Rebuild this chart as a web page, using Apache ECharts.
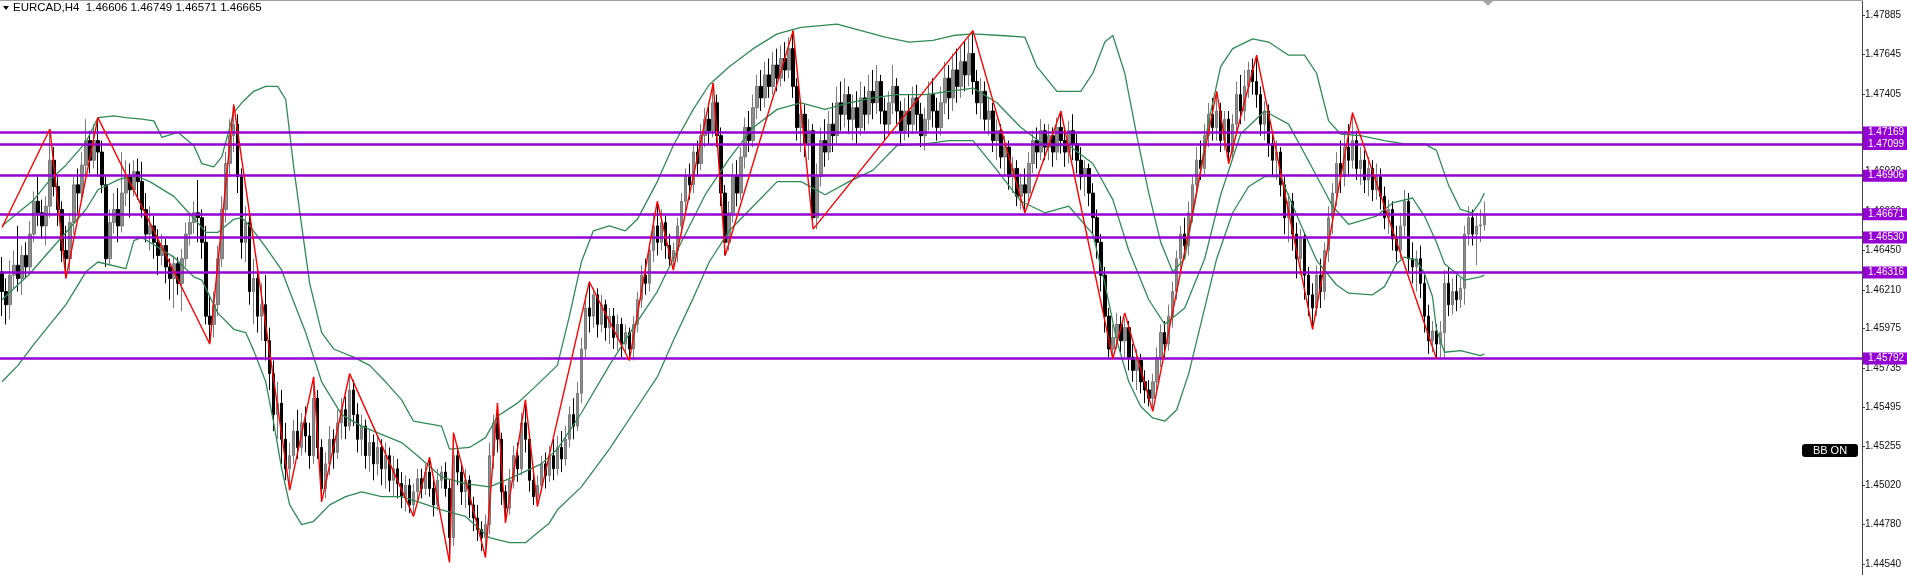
<!DOCTYPE html>
<html><head><meta charset="utf-8">
<script src="https://cdn.jsdelivr.net/npm/echarts@6/dist/echarts.min.js"></script>
<style>html,body{margin:0;padding:0;background:#fff}#c{width:1907px;height:575px}</style>
</head><body><div id="c"></div>
<script>
// [open, close, low, high]
const candles = [
[1.4632,1.4620,1.4605,1.4641],[1.4620,1.4612,1.4600,1.4628],[1.4612,1.4630,1.4603,1.4639],[1.4630,1.4636,1.4622,1.4645],
[1.4636,1.4628,1.4620,1.4660],[1.4628,1.4642,1.4618,1.4648],[1.4642,1.4635,1.4628,1.4650],[1.4635,1.4655,1.4630,1.4663],
[1.4655,1.4675,1.4650,1.4681],[1.4675,1.4668,1.4660,1.4690],[1.4668,1.4660,1.4652,1.4676],[1.4660,1.4672,1.4648,1.4678],
[1.4672,1.4700,1.4665,1.4719],[1.4700,1.4684,1.4678,1.4708],[1.4684,1.4670,1.4660,1.4690],[1.4670,1.4645,1.4638,1.4675],
[1.4645,1.4640,1.4628,1.4660],[1.4640,1.4662,1.4632,1.4668],[1.4662,1.4685,1.4655,1.4690],[1.4685,1.4680,1.4668,1.4695],
[1.4680,1.4697,1.4675,1.4705],[1.4697,1.4712,1.4690,1.4725],[1.4712,1.4700,1.4692,1.4718],[1.4700,1.4712,1.4695,1.4722],
[1.4712,1.4705,1.4690,1.4726],[1.4705,1.4685,1.4680,1.4712],[1.4685,1.4640,1.4635,1.4690],[1.4640,1.4662,1.4636,1.4670],
[1.4662,1.4670,1.4655,1.4680],[1.4670,1.4660,1.4650,1.4683],[1.4660,1.4680,1.4656,1.4705],[1.4680,1.4690,1.4672,1.4700],
[1.4690,1.4682,1.4665,1.4698],[1.4682,1.4693,1.4678,1.4700],[1.4693,1.4687,1.4676,1.4701],[1.4687,1.4670,1.4665,1.4699],
[1.4670,1.4655,1.4650,1.4680],[1.4655,1.4660,1.4645,1.4672],[1.4660,1.4650,1.4640,1.4666],[1.4650,1.4642,1.4630,1.4658],
[1.4642,1.4648,1.4636,1.4655],[1.4648,1.4635,1.4625,1.4652],[1.4635,1.4628,1.4615,1.4640],[1.4628,1.4637,1.4610,1.4642],
[1.4637,1.4625,1.4618,1.4641],[1.4625,1.4640,1.4608,1.4646],[1.4640,1.4655,1.4635,1.4662],[1.4655,1.4662,1.4648,1.4668],
[1.4662,1.4668,1.4655,1.4675],[1.4668,1.4665,1.4650,1.4688],[1.4665,1.4650,1.4640,1.4670],[1.4650,1.4605,1.4600,1.4660],
[1.4605,1.4600,1.4588,1.4618],[1.4600,1.4612,1.4592,1.4620],[1.4612,1.4640,1.4605,1.4648],[1.4640,1.4670,1.4635,1.4678],
[1.4670,1.4698,1.4662,1.4705],[1.4698,1.4715,1.4690,1.4725],[1.4715,1.4722,1.4705,1.4734],[1.4722,1.4690,1.4680,1.4728],
[1.4690,1.4650,1.4640,1.4695],[1.4650,1.4662,1.4638,1.4672],[1.4662,1.4620,1.4612,1.4668],[1.4620,1.4628,1.4600,1.4640],
[1.4628,1.4605,1.4595,1.4635],[1.4605,1.4612,1.4590,1.4625],[1.4612,1.4590,1.4578,1.4630],[1.4590,1.4570,1.4560,1.4598],
[1.4570,1.4545,1.4535,1.4578],[1.4545,1.4552,1.4530,1.4565],[1.4552,1.4530,1.4515,1.4560],[1.4530,1.4512,1.4505,1.4540],
[1.4512,1.4520,1.4499,1.4528],[1.4520,1.4535,1.4515,1.4542],[1.4535,1.4525,1.4518,1.4548],[1.4525,1.4540,1.4520,1.4546],
[1.4540,1.4532,1.4522,1.4550],[1.4532,1.4520,1.4512,1.4540],[1.4520,1.4555,1.4515,1.4568],[1.4555,1.4525,1.4518,1.4560],
[1.4525,1.4500,1.4492,1.4530],[1.4500,1.4515,1.4494,1.4522],[1.4515,1.4530,1.4508,1.4538],[1.4530,1.4522,1.4512,1.4536],
[1.4522,1.4540,1.4518,1.4548],[1.4540,1.4548,1.4530,1.4555],[1.4548,1.4538,1.4530,1.4556],[1.4538,1.4560,1.4535,1.4570],
[1.4560,1.4545,1.4538,1.4566],[1.4545,1.4530,1.4522,1.4552],[1.4530,1.4538,1.4520,1.4545],[1.4538,1.4520,1.4512,1.4542],
[1.4520,1.4528,1.4510,1.4536],[1.4528,1.4515,1.4505,1.4533],[1.4515,1.4525,1.4508,1.4532],[1.4525,1.4512,1.4502,1.4530],
[1.4512,1.4520,1.4500,1.4528],[1.4520,1.4505,1.4498,1.4525],[1.4505,1.4512,1.4495,1.4520],[1.4512,1.4503,1.4494,1.4518],
[1.4503,1.4495,1.4488,1.4510],[1.4495,1.4502,1.4486,1.4508],[1.4502,1.4490,1.4485,1.4506],[1.4490,1.4498,1.4483,1.4503],
[1.4498,1.4506,1.4492,1.4512],[1.4506,1.4500,1.4494,1.4512],[1.4500,1.4510,1.4496,1.4515],[1.4510,1.4500,1.4495,1.4519],
[1.4500,1.4490,1.4483,1.4505],[1.4490,1.4505,1.4487,1.4512],[1.4505,1.4510,1.4500,1.4514],[1.4510,1.4500,1.4495,1.4516],
[1.4500,1.4470,1.4455,1.4505],[1.4470,1.4520,1.4465,1.4534],[1.4520,1.4510,1.4502,1.4526],[1.4510,1.4498,1.4490,1.4515],
[1.4498,1.4505,1.4488,1.4512],[1.4505,1.4490,1.4482,1.4508],[1.4490,1.4482,1.4474,1.4495],[1.4482,1.4475,1.4468,1.4490],
[1.4475,1.4470,1.4462,1.4480],[1.4470,1.4478,1.4458,1.4484],[1.4478,1.4520,1.4472,1.4528],[1.4520,1.4540,1.4512,1.4545],
[1.4540,1.4530,1.4522,1.4552],[1.4530,1.4498,1.4490,1.4534],[1.4498,1.4488,1.4479,1.4502],[1.4488,1.4505,1.4484,1.4512],
[1.4505,1.4520,1.4500,1.4526],[1.4520,1.4512,1.4504,1.4528],[1.4512,1.4540,1.4508,1.4546],[1.4540,1.4530,1.4522,1.4554],
[1.4530,1.4505,1.4498,1.4534],[1.4505,1.4495,1.4490,1.4510],[1.4495,1.4502,1.4489,1.4508],[1.4502,1.4515,1.4498,1.4520],
[1.4515,1.4508,1.4500,1.4522],[1.4508,1.4520,1.4504,1.4526],[1.4520,1.4512,1.4505,1.4530],[1.4512,1.4525,1.4508,1.4532],
[1.4525,1.4518,1.4510,1.4535],[1.4518,1.4530,1.4514,1.4538],[1.4530,1.4545,1.4525,1.4550],[1.4545,1.4538,1.4530,1.4555],
[1.4538,1.4558,1.4535,1.4565],[1.4558,1.4585,1.4552,1.4592],[1.4585,1.4610,1.4580,1.4618],[1.4610,1.4605,1.4595,1.4626],
[1.4605,1.4618,1.4598,1.4622],[1.4618,1.4600,1.4592,1.4622],[1.4600,1.4612,1.4595,1.4618],[1.4612,1.4598,1.4590,1.4615],
[1.4598,1.4605,1.4588,1.4610],[1.4605,1.4592,1.4585,1.4610],[1.4592,1.4600,1.4584,1.4606],[1.4600,1.4588,1.4580,1.4604],
[1.4588,1.4595,1.4582,1.4600],[1.4595,1.4585,1.4578,1.4598],[1.4585,1.4600,1.4578,1.4605],[1.4600,1.4615,1.4595,1.4620],
[1.4615,1.4630,1.4610,1.4636],[1.4630,1.4625,1.4618,1.4640],[1.4625,1.4645,1.4620,1.4650],[1.4645,1.4660,1.4638,1.4668],
[1.4660,1.4650,1.4642,1.4675],[1.4650,1.4662,1.4645,1.4670],[1.4662,1.4648,1.4640,1.4666],[1.4648,1.4640,1.4635,1.4655],
[1.4640,1.4645,1.4633,1.4650],[1.4645,1.4660,1.4638,1.4665],[1.4660,1.4675,1.4655,1.4680],[1.4675,1.4690,1.4668,1.4695],
[1.4690,1.4685,1.4676,1.4698],[1.4685,1.4705,1.4680,1.4710],[1.4705,1.4698,1.4690,1.4712],[1.4698,1.4715,1.4694,1.4722],
[1.4715,1.4725,1.4708,1.4732],[1.4725,1.4718,1.4710,1.4735],[1.4718,1.4735,1.4714,1.4747],[1.4735,1.4715,1.4708,1.4740],
[1.4715,1.4680,1.4672,1.4720],[1.4680,1.4650,1.4642,1.4685],[1.4650,1.4668,1.4645,1.4675],[1.4668,1.4690,1.4662,1.4698],
[1.4690,1.4680,1.4672,1.4700],[1.4680,1.4702,1.4676,1.4708],[1.4702,1.4720,1.4695,1.4726],[1.4720,1.4712,1.4705,1.4730],
[1.4712,1.4732,1.4708,1.4740],[1.4732,1.4745,1.4725,1.4752],[1.4745,1.4738,1.4730,1.4755],[1.4738,1.4752,1.4732,1.4760],
[1.4752,1.4745,1.4738,1.4762],[1.4745,1.4758,1.4740,1.4766],[1.4758,1.4750,1.4742,1.4768],[1.4750,1.4762,1.4745,1.4770],
[1.4762,1.4755,1.4748,1.4772],[1.4755,1.4768,1.4750,1.4775],[1.4768,1.4745,1.4738,1.4779],[1.4745,1.4720,1.4712,1.4750],
[1.4720,1.4728,1.4705,1.4735],[1.4728,1.4710,1.4702,1.4734],[1.4710,1.4718,1.4700,1.4725],[1.4718,1.4665,1.4660,1.4722],
[1.4665,1.4690,1.4658,1.4698],[1.4690,1.4712,1.4684,1.4720],[1.4712,1.4705,1.4696,1.4725],[1.4705,1.4722,1.4700,1.4730],
[1.4722,1.4715,1.4705,1.4735],[1.4715,1.4735,1.4710,1.4745],[1.4735,1.4728,1.4718,1.4748],[1.4728,1.4740,1.4720,1.4750],
[1.4740,1.4725,1.4716,1.4745],[1.4725,1.4732,1.4712,1.4740],[1.4732,1.4720,1.4710,1.4742],[1.4720,1.4738,1.4715,1.4748],
[1.4738,1.4728,1.4718,1.4745],[1.4728,1.4742,1.4722,1.4752],[1.4742,1.4735,1.4725,1.4755],[1.4735,1.4748,1.4728,1.4758],
[1.4748,1.4730,1.4722,1.4752],[1.4730,1.4722,1.4712,1.4738],[1.4722,1.4735,1.4715,1.4742],[1.4735,1.4745,1.4728,1.4758],
[1.4745,1.4730,1.4722,1.4750],[1.4730,1.4718,1.4710,1.4736],[1.4718,1.4730,1.4712,1.4738],[1.4730,1.4722,1.4714,1.4740],
[1.4722,1.4738,1.4716,1.4745],[1.4738,1.4728,1.4718,1.4746],[1.4728,1.4715,1.4708,1.4735],[1.4715,1.4725,1.4706,1.4732],
[1.4725,1.4740,1.4718,1.4748],[1.4740,1.4730,1.4720,1.4750],[1.4730,1.4720,1.4712,1.4738],[1.4720,1.4735,1.4715,1.4745],
[1.4735,1.4750,1.4728,1.4760],[1.4750,1.4738,1.4725,1.4758],[1.4738,1.4755,1.4730,1.4765],[1.4755,1.4745,1.4735,1.4768],
[1.4745,1.4760,1.4738,1.4770],[1.4760,1.4752,1.4742,1.4772],[1.4752,1.4765,1.4745,1.4775],[1.4765,1.4748,1.4740,1.4779],
[1.4748,1.4735,1.4728,1.4755],[1.4735,1.4742,1.4725,1.4750],[1.4742,1.4725,1.4718,1.4748],[1.4725,1.4730,1.4715,1.4738],
[1.4730,1.4712,1.4705,1.4735],[1.4712,1.4718,1.4700,1.4725],[1.4718,1.4702,1.4695,1.4722],[1.4702,1.4708,1.4690,1.4715],
[1.4708,1.4690,1.4682,1.4712],[1.4690,1.4695,1.4680,1.4702],[1.4695,1.4678,1.4672,1.4700],[1.4678,1.4685,1.4670,1.4692],
[1.4685,1.4680,1.4668,1.4695],[1.4680,1.4698,1.4675,1.4705],[1.4698,1.4712,1.4692,1.4718],[1.4712,1.4705,1.4695,1.4720],
[1.4705,1.4718,1.4700,1.4725],[1.4718,1.4708,1.4700,1.4722],[1.4708,1.4715,1.4700,1.4722],[1.4715,1.4705,1.4696,1.4720],
[1.4705,1.4720,1.4700,1.4726],[1.4720,1.4712,1.4704,1.4730],[1.4712,1.4705,1.4696,1.4720],[1.4705,1.4718,1.4698,1.4724],
[1.4718,1.4710,1.4700,1.4728],[1.4710,1.4700,1.4692,1.4716],[1.4700,1.4690,1.4682,1.4708],[1.4690,1.4695,1.4678,1.4700],
[1.4695,1.4680,1.4672,1.4698],[1.4680,1.4665,1.4655,1.4686],[1.4665,1.4650,1.4640,1.4670],[1.4650,1.4630,1.4620,1.4655],
[1.4630,1.4605,1.4595,1.4635],[1.4605,1.4585,1.4580,1.4610],[1.4585,1.4592,1.4579,1.4600],[1.4592,1.4600,1.4585,1.4607],
[1.4600,1.4590,1.4583,1.4605],[1.4590,1.4598,1.4580,1.4604],[1.4598,1.4580,1.4572,1.4602],[1.4580,1.4572,1.4565,1.4588],
[1.4572,1.4578,1.4560,1.4585],[1.4578,1.4565,1.4558,1.4582],[1.4565,1.4560,1.4552,1.4572],[1.4560,1.4555,1.4550,1.4566],
[1.4555,1.4565,1.4547,1.4570],[1.4565,1.4580,1.4560,1.4586],[1.4580,1.4595,1.4574,1.4600],[1.4595,1.4588,1.4580,1.4602],
[1.4588,1.4605,1.4584,1.4612],[1.4605,1.4620,1.4598,1.4626],[1.4620,1.4640,1.4615,1.4645],[1.4640,1.4655,1.4632,1.4660],
[1.4655,1.4648,1.4640,1.4665],[1.4648,1.4668,1.4642,1.4675],[1.4668,1.4685,1.4662,1.4690],[1.4685,1.4700,1.4678,1.4708],
[1.4700,1.4695,1.4688,1.4712],[1.4695,1.4715,1.4690,1.4722],[1.4715,1.4728,1.4708,1.4735],[1.4728,1.4720,1.4712,1.4738],
[1.4720,1.4730,1.4712,1.4742],[1.4730,1.4712,1.4705,1.4735],[1.4712,1.4725,1.4706,1.4730],[1.4725,1.4705,1.4698,1.4730],
[1.4705,1.4722,1.4700,1.4728],[1.4722,1.4740,1.4715,1.4748],[1.4740,1.4730,1.4722,1.4752],[1.4730,1.4745,1.4724,1.4755],
[1.4745,1.4755,1.4738,1.4760],[1.4755,1.4748,1.4740,1.4762],[1.4748,1.4740,1.4732,1.4764],[1.4740,1.4722,1.4715,1.4745],
[1.4722,1.4730,1.4712,1.4736],[1.4730,1.4710,1.4702,1.4734],[1.4710,1.4700,1.4690,1.4716],[1.4700,1.4705,1.4688,1.4712],
[1.4705,1.4685,1.4678,1.4708],[1.4685,1.4665,1.4655,1.4690],[1.4665,1.4675,1.4650,1.4680],[1.4675,1.4655,1.4645,1.4680],
[1.4655,1.4640,1.4628,1.4662],[1.4640,1.4652,1.4630,1.4658],[1.4652,1.4630,1.4615,1.4656],[1.4630,1.4618,1.4605,1.4635],
[1.4618,1.4610,1.4597,1.4625],[1.4610,1.4630,1.4605,1.4636],[1.4630,1.4620,1.4610,1.4640],[1.4620,1.4645,1.4615,1.4650],
[1.4645,1.4665,1.4638,1.4672],[1.4665,1.4680,1.4655,1.4686],[1.4680,1.4698,1.4672,1.4705],[1.4698,1.4690,1.4680,1.4712],
[1.4690,1.4708,1.4684,1.4718],[1.4708,1.4700,1.4690,1.4722],[1.4700,1.4712,1.4695,1.4729],[1.4712,1.4695,1.4688,1.4718],
[1.4695,1.4700,1.4685,1.4708],[1.4700,1.4688,1.4680,1.4706],[1.4688,1.4695,1.4678,1.4702],[1.4695,1.4682,1.4675,1.4700],
[1.4682,1.4690,1.4676,1.4698],[1.4690,1.4678,1.4670,1.4695],[1.4678,1.4665,1.4658,1.4684],[1.4665,1.4670,1.4655,1.4676],
[1.4670,1.4652,1.4645,1.4675],[1.4652,1.4645,1.4638,1.4660],[1.4645,1.4660,1.4640,1.4668],[1.4660,1.4675,1.4652,1.4682],
[1.4675,1.4640,1.4632,1.4680],[1.4640,1.4635,1.4625,1.4650],[1.4635,1.4640,1.4620,1.4645],[1.4640,1.4625,1.4616,1.4648],
[1.4625,1.4605,1.4595,1.4630],[1.4605,1.4590,1.4582,1.4612],[1.4590,1.4596,1.4583,1.4602],[1.4596,1.4588,1.4579,1.4600],
[1.4588,1.4595,1.4580,1.4602],[1.4595,1.4625,1.4580,1.4633],[1.4625,1.4612,1.4605,1.4635],[1.4612,1.4620,1.4606,1.4628],
[1.4620,1.4615,1.4608,1.4630],[1.4615,1.4622,1.4610,1.4628],[1.4622,1.4655,1.4612,1.4660],[1.4655,1.4665,1.4648,1.4672],
[1.4665,1.4655,1.4648,1.4670],[1.4655,1.4660,1.4636,1.4668],[1.4660,1.46606,1.4650,1.4670],[1.46606,1.46665,1.46571,1.46749]
];
const bbUpper = [[0,1.4660],[4,1.4668],[8,1.4676],[12,1.4688],[16,1.4697],[21,1.4711],[24,1.4726],[28,1.4727],[31,1.4726],[35,1.4725],[38,1.4724],[40,1.4714],[44,1.4717],[48,1.4709],[50,1.4698],[53,1.4696],[55,1.4702],[58,1.4729],[60,1.4735],[63,1.4742],[66,1.4745],[69,1.4745],[71,1.4737],[73,1.4696],[75,1.4660],[77,1.4625],[80,1.4595],[83,1.4585],[88,1.4580],[92,1.4575],[96,1.4565],[100,1.4554],[103,1.4541],[110,1.4538],[112,1.4524],[117,1.4525],[121,1.4531],[124,1.4544],[129,1.4552],[133,1.4561],[139,1.4575],[142,1.4605],[145,1.4638],[148,1.4657],[152,1.4660],[156,1.4657],[159,1.4664],[164,1.4687],[168,1.4709],[173,1.4731],[177,1.4746],[182,1.4757],[188,1.4768],[194,1.4777],[200,1.4781],[209,1.4783],[215,1.4779],[221,1.4775],[227,1.4772],[233,1.4773],[238,1.4776],[243,1.4777],[250,1.4776],[256,1.4775],[259,1.4757],[264,1.4742],[270,1.4742],[273,1.4753],[276,1.4772],[278,1.4776],[281,1.4753],[284,1.4715],[287,1.4680],[290,1.4650],[293,1.4632],[296,1.4640],[299,1.4680],[302,1.4724],[305,1.4757],[308,1.4768],[313,1.4774],[317,1.4772],[322,1.4764],[326,1.4764],[329,1.4753],[332,1.4724],[335,1.4716],[340,1.4715],[346,1.4712],[351,1.4710],[356,1.4710],[359,1.4706],[362,1.4685],[365,1.4670],[368,1.4668],[370,1.4675],[371,1.4680]];
const bbMiddle = [[0,1.4615],[7,1.4631],[12,1.4645],[16,1.4656],[21,1.4670],[24,1.4682],[29,1.4688],[33,1.4691],[37,1.4687],[43,1.4678],[46,1.4670],[49,1.4662],[51,1.4656],[54,1.4656],[58,1.4664],[60,1.4665],[62,1.4660],[66,1.4647],[70,1.4633],[72,1.4620],[76,1.4595],[80,1.4565],[85,1.4545],[90,1.4538],[95,1.4533],[100,1.4528],[104,1.4520],[110,1.4507],[116,1.4503],[122,1.4501],[127,1.4506],[135,1.4515],[139,1.4524],[145,1.4546],[152,1.4575],[158,1.4598],[164,1.4620],[170,1.4650],[176,1.4679],[182,1.4701],[188,1.4720],[194,1.4731],[200,1.4735],[206,1.4731],[212,1.4735],[218,1.4738],[224,1.4740],[231,1.4740],[237,1.4742],[243,1.4744],[249,1.4735],[255,1.4720],[261,1.4709],[267,1.4709],[273,1.4698],[278,1.4676],[282,1.4645],[287,1.4615],[291,1.4600],[296,1.4610],[301,1.4640],[305,1.4679],[310,1.4716],[316,1.4730],[322,1.4722],[328,1.4695],[333,1.4672],[337,1.4661],[344,1.4666],[348,1.4674],[353,1.4677],[356,1.4666],[359,1.4650],[361,1.4637],[364,1.4631],[366,1.4627],[370,1.4629],[371,1.4630]];
const bbLower = [[0,1.4565],[4,1.4575],[8,1.4588],[12,1.4600],[16,1.4612],[21,1.4632],[24,1.4638],[31,1.4634],[33,1.4651],[35,1.4653],[39,1.4647],[43,1.4641],[48,1.4629],[50,1.4627],[54,1.4607],[58,1.4597],[61,1.4595],[63,1.4584],[66,1.4565],[68,1.4540],[70,1.4512],[72,1.4490],[75,1.4478],[78,1.4480],[82,1.4490],[86,1.4495],[90,1.4498],[95,1.4495],[100,1.4495],[104,1.4492],[110,1.4487],[116,1.4483],[122,1.4470],[127,1.4467],[131,1.4467],[137,1.4479],[139,1.4487],[145,1.4501],[152,1.4524],[158,1.4546],[164,1.4568],[168,1.4590],[173,1.4616],[177,1.4638],[182,1.4657],[188,1.4672],[194,1.4687],[200,1.4687],[206,1.4679],[212,1.4687],[218,1.4694],[224,1.4709],[231,1.4710],[237,1.4712],[243,1.4712],[249,1.4694],[255,1.4675],[261,1.4668],[267,1.4672],[273,1.4655],[276,1.4625],[279,1.4590],[282,1.4565],[285,1.4550],[288,1.4543],[291,1.4541],[294,1.4548],[297,1.4570],[300,1.4600],[304,1.4640],[308,1.4668],[312,1.4684],[316,1.4690],[320,1.4690],[325,1.4661],[329,1.4639],[334,1.4624],[337,1.4619],[343,1.4618],[346,1.4623],[349,1.4637],[351,1.4641],[354,1.4639],[356,1.4631],[358,1.4617],[359,1.4597],[361,1.4583],[365,1.4584],[370,1.4581],[371,1.4582]];
const zigzag = [[0,1.4659],[12,1.4719],[16,1.4628],[24,1.4726],[52,1.4588],[58,1.4734],[72,1.4499],[78,1.4568],[80,1.4492],[87,1.4570],[103,1.4483],[107,1.4519],[112,1.4455],[113,1.4534],[121,1.4458],[124,1.4552],[126,1.4479],[131,1.4554],[134,1.4489],[147,1.4626],[157,1.4578],[164,1.4675],[168,1.4633],[178,1.4747],[181,1.4642],[198,1.4779],[203,1.4658],[243,1.4779],[256,1.4668],[265,1.4730],[278,1.4579],[281,1.4607],[288,1.4547],[304,1.4742],[307,1.4698],[314,1.4764],[328,1.4597],[338,1.4729],[359,1.4579]];
const levels = [1.47169,1.47099,1.46906,1.46671,1.46530,1.46316,1.45792];
const yTicks = [1.47885,1.47645,1.47405,1.47165,1.46930,1.46690,1.46450,1.46210,1.45975,1.45735,1.45495,1.45255,1.45020,1.44780,1.44540];
const headerText = 'EURCAD,H4  1.46606 1.46749 1.46571 1.46665';
const slotCount = 466;

const categories = [];
for (let i = 0; i < slotCount; i++) categories.push(String(i));

const chart = echarts.init(document.getElementById('c'), null, {renderer: 'canvas'});
const bandStyle = {color: '#2e8b57', width: 1.3};
chart.setOption({
  animation: false,
  backgroundColor: '#ffffff',
  grid: {left: 0, right: 45, top: 1, bottom: 0, containLabel: false},
  xAxis: {type: 'category', data: categories, boundaryGap: true, show: false},
  yAxis: {
    type: 'value', position: 'right', min: 1.444729, max: 1.479703, scale: true,
    splitLine: {show: false},
    axisLine: {show: true, lineStyle: {color: '#444', width: 1}},
    axisTick: {show: true, length: 3, lineStyle: {color: '#444'}, customValues: yTicks},
    axisLabel: {show: true, margin: 3, color: '#111', fontSize: 10, fontFamily: 'Liberation Sans',
      customValues: yTicks, formatter: v => v.toFixed(5)}
  },
  series: [
    {type: 'candlestick', data: candles, barWidth: 3, z: 3,
      itemStyle: {color: '#8e8e8e', color0: '#000000', borderColor: '#7a7a7a', borderColor0: '#000000', borderWidth: 1}},
    {type: 'line', data: bbUpper, symbol: 'none', lineStyle: bandStyle, z: 4, silent: true},
    {type: 'line', data: bbMiddle, symbol: 'none', lineStyle: bandStyle, z: 4, silent: true},
    {type: 'line', data: bbLower, symbol: 'none', lineStyle: bandStyle, z: 4, silent: true},
    {type: 'line', data: zigzag, symbol: 'none', lineStyle: {color: '#ff0000', width: 1.4}, z: 5, silent: true,
      markLine: {silent: true, symbol: ['none', 'none'], animation: false, precision: 5,
        lineStyle: {color: '#9400d3', width: 2.5, type: 'solid'},
        label: {show: true, position: 'end', distance: 1, color: '#ffffff', backgroundColor: '#9400d3',
          fontSize: 10, fontFamily: 'Liberation Sans', padding: [1, 5, 1, 5], formatter: p => p.value.toFixed(5)},
        data: levels.map(v => ({yAxis: v}))}}
  ],
  graphic: [
    {type: 'rect', x: 0, y: 0, shape: {width: 1862, height: 1}, style: {fill: '#a0a0a0'}, z: 10},
    {type: 'polygon', shape: {points: [[1483, 1], [1493, 1], [1488, 6]]}, style: {fill: '#a8a8a8'}, z: 10},
    {type: 'polygon', shape: {points: [[3, 6], [9, 6], [6, 10]]}, style: {fill: '#000'}, z: 10},
    {type: 'text', x: 13, y: 8, style: {text: headerText, fill: '#000', font: '11.5px "Liberation Sans"', verticalAlign: 'middle'}, z: 10},
    {type: 'rect', x: 1802, y: 444, shape: {width: 56, height: 13, r: 3}, style: {fill: '#000'}, z: 10},
    {type: 'text', x: 1830, y: 451, style: {text: 'BB ON', fill: '#fff', font: '11px "Liberation Sans"', align: 'center', verticalAlign: 'middle'}, z: 11}
  ]
});
</script></body></html>
